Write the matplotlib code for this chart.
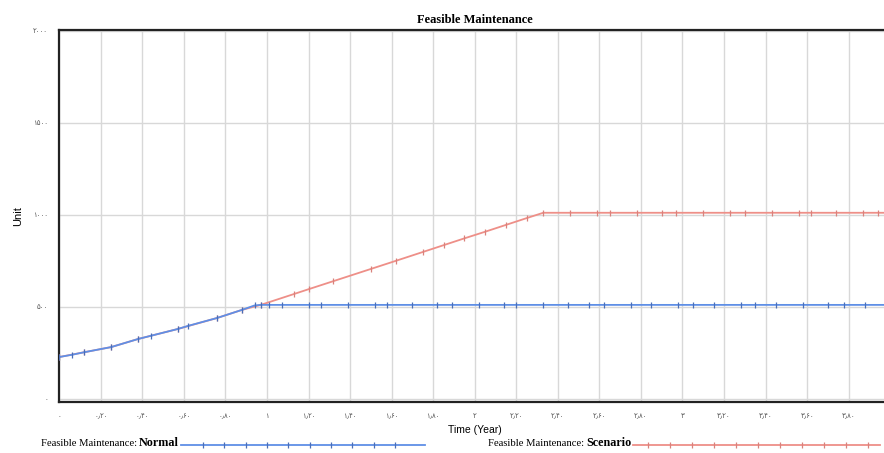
import numpy as np
import matplotlib.pyplot as plt
from matplotlib.lines import Line2D

# time (year) and value of the two runs
t_normal = [0.0, 0.06, 0.12, 0.25, 0.38, 0.44, 0.57, 0.62, 0.76, 0.88, 0.94, 0.97,
            1.01, 1.07, 1.20, 1.26, 1.39, 1.52, 1.58, 1.70, 1.82, 1.89, 2.02, 2.14,
            2.20, 2.33, 2.45, 2.55, 2.62, 2.75, 2.85, 2.98, 3.05, 3.15, 3.28, 3.35,
            3.45, 3.58, 3.70, 3.78, 3.88, 4.0]
v_normal = [228, 240, 254, 282, 326, 343, 380, 397, 440, 484, 508, 511,
            511, 511, 511, 511, 511, 511, 511, 511, 511, 511, 511, 511,
            511, 511, 511, 511, 511, 511, 511, 511, 511, 511, 511, 511,
            511, 511, 511, 511, 511, 511]

t_scen = [0.0, 0.12, 0.25, 0.38, 0.57, 0.76, 0.88, 0.97, 1.13, 1.20, 1.32, 1.50,
          1.62, 1.75, 1.85, 1.95, 2.05, 2.15, 2.25, 2.33, 2.46, 2.59, 2.65, 2.78,
          2.90, 2.97, 3.10, 3.23, 3.30, 3.43, 3.56, 3.62, 3.74, 3.87, 3.94, 4.0]
v_scen = [228, 254, 282, 326, 380, 440, 484, 511, 570, 596, 640, 706,
          750, 798, 835, 872, 908, 945, 982, 1011, 1011, 1011, 1011, 1011,
          1011, 1011, 1011, 1011, 1011, 1011, 1011, 1011, 1011, 1011, 1011, 1011]

x_ticks = [0, 0.2, 0.4, 0.6, 0.8, 1, 1.2, 1.4, 1.6, 1.8, 2, 2.2, 2.4, 2.6, 2.8,
           3, 3.2, 3.4, 3.6, 3.8]
x_labels = ['۰', '۰٫۲۰', '۰٫۴۰', '۰٫۶۰', '۰٫۸۰', '۱', '۱٫۲۰', '۱٫۴۰', '۱٫۶۰', '۱٫۸۰',
            '۲', '۲٫۲۰', '۲٫۴۰', '۲٫۶۰', '۲٫۸۰', '۳', '۳٫۲۰', '۳٫۴۰', '۳٫۶۰', '۳٫۸۰']
y_ticks = [0, 500, 1000, 1500, 2000]
y_labels = ['۰', '۵۰۰', '۱۰۰۰', '۱۵۰۰', '۲۰۰۰']

blue = '#5f8fe6'
red = '#ee8f88'

fig = plt.figure(figsize=(8.84, 4.53), dpi=100)
ax = fig.add_axes([0.067, 0.1126, 0.94, 0.822])

ax.plot(t_scen, v_scen, color=red, lw=1.3, marker='|', ms=5, mew=0.9, mec='#d9827c', zorder=3)
ax.plot(t_normal, v_normal, color=blue, lw=1.3, marker='|', ms=5, mew=0.9, mec='#4a6fb8', zorder=4)

ax.set_xlim(0, 4.0)
ax.set_ylim(-16, 2005)
ax.set_xticks(x_ticks)
ax.set_xticklabels(x_labels, fontsize=5, color='#555555', family='DejaVu Sans')
ax.set_yticks(y_ticks)
ax.set_yticklabels(y_labels, fontsize=5, color='#555555', family='DejaVu Sans')
ax.tick_params(length=0, pad=8)
ax.grid(color='#d8d8d8', lw=1)
ax.set_axisbelow(True)

for s in ['left', 'top', 'bottom']:
    ax.spines[s].set_linewidth(1.6)
    ax.spines[s].set_color('#222222')
ax.spines['right'].set_visible(False)

ax.set_title('Feasible Maintenance', family='Liberation Serif', fontweight='bold', fontsize=9, pad=5)
ax.set_xlabel('Time (Year)', family='Liberation Sans', fontsize=7.5, labelpad=4)
ax.set_ylabel('Unit', family='Liberation Sans', fontsize=8)
ax.yaxis.set_label_coords(-0.044, 0.5)

# legend along the bottom
yb = 1 - 446 / 453
fig.text(41 / 884, yb, 'Feasible Maintenance:', family='Liberation Serif', fontsize=7.7, va='baseline')
fig.text(139 / 884, yb, 'Normal', family='Liberation Serif', fontsize=8.7, fontweight='bold', va='baseline')
fig.text(488 / 884, yb, 'Feasible Maintenance:', family='Liberation Serif', fontsize=7.7, va='baseline')
fig.text(586 / 884, yb, 'Scenario', family='Liberation Serif', fontsize=8.7, fontweight='bold', va='baseline')

yl = 1 - 445 / 453
fig.add_artist(Line2D([181 / 884, 425 / 884], [yl, yl], color=blue, lw=1.3, transform=fig.transFigure))
mx = np.linspace(203, 395, 10) / 884
fig.add_artist(Line2D(mx, [yl] * len(mx), ls='none', marker='|', ms=5, mew=0.9, color='#4a6fb8', transform=fig.transFigure))
fig.add_artist(Line2D([633 / 884, 880 / 884], [yl, yl], color=red, lw=1.3, transform=fig.transFigure))
mx = np.linspace(648, 868, 11) / 884
fig.add_artist(Line2D(mx, [yl] * len(mx), ls='none', marker='|', ms=5, mew=0.9, color='#d9827c', transform=fig.transFigure))

fig.savefig('out.png', dpi=100)
